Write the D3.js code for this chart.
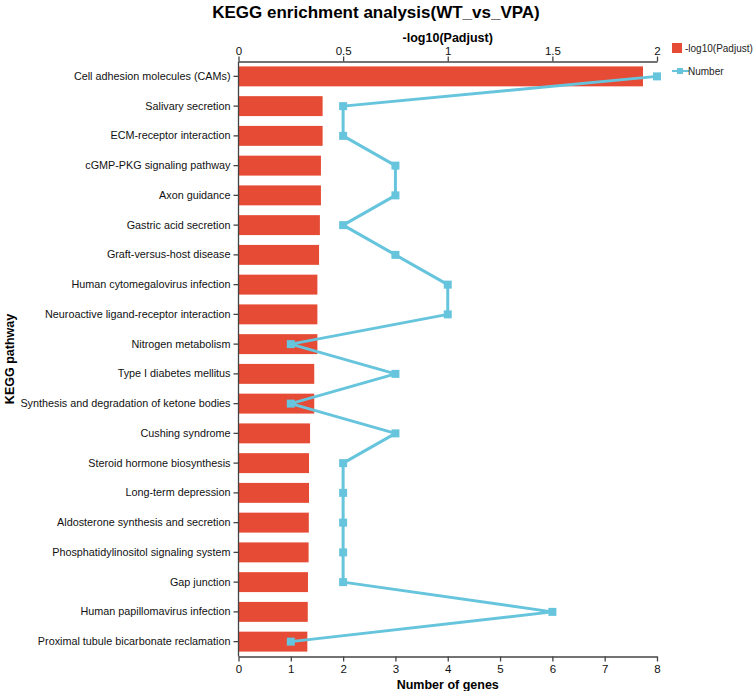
<!DOCTYPE html>
<html><head><meta charset="utf-8">
<script src="https://cdn.jsdelivr.net/npm/d3@7"></script>
<style>body{margin:0;background:#fff;}svg{display:block;font-family:"Liberation Sans",Arial,sans-serif;}</style>
</head><body><svg id="c" width="753" height="691"></svg>
<script>
const categories = ["Cell adhesion molecules (CAMs)","Salivary secretion","ECM-receptor interaction","cGMP-PKG signaling pathway","Axon guidance","Gastric acid secretion","Graft-versus-host disease","Human cytomegalovirus infection","Neuroactive ligand-receptor interaction","Nitrogen metabolism","Type I diabetes mellitus","Synthesis and degradation of ketone bodies","Cushing syndrome","Steroid hormone biosynthesis","Long-term depression","Aldosterone synthesis and secretion","Phosphatidylinositol signaling system","Gap junction","Human papillomavirus infection","Proximal tubule bicarbonate reclamation"];
const padjLog = [1.933,0.402,0.402,0.394,0.394,0.389,0.385,0.377,0.377,0.377,0.362,0.362,0.342,0.337,0.337,0.336,0.335,0.332,0.331,0.329];
const geneNumber = [8,2,2,3,3,2,3,4,4,1,3,1,3,2,2,2,2,2,6,1];
const topTicks = [0,0.5,1,1.5,2];
const bottomTicks = [0,1,2,3,4,5,6,7,8];

const svg = d3.select("#c");
const L=238.5, R=657, T=61.5, B=656.5;
const barColor="#e64b35", lineColor="#66c5dd", axisColor="#444";
const xTop = d3.scaleLinear().domain([0,2]).range([L,R]);
const xBot = d3.scaleLinear().domain([0,8]).range([L,R]);
const y = d3.scaleBand().domain(categories).range([T,B]).paddingInner(0.33).paddingOuter(0.165);

svg.append("g").selectAll("rect").data(categories).join("rect")
  .attr("x",xTop(0)).attr("y",d=>y(d)).attr("height",y.bandwidth())
  .attr("width",(d,i)=>xTop(padjLog[i])-xTop(0)).attr("fill",barColor);

const line = d3.line().x((d,i)=>xBot(d)).y((d,i)=>y(categories[i])+y.bandwidth()/2);
svg.append("path").datum(geneNumber).attr("d",line).attr("fill","none")
  .attr("stroke",lineColor).attr("stroke-width",3).attr("stroke-linejoin","round");
svg.append("g").selectAll("rect").data(geneNumber).join("rect")
  .attr("x",d=>xBot(d)-4).attr("y",(d,i)=>y(categories[i])+y.bandwidth()/2-4)
  .attr("width",8).attr("height",8).attr("fill",lineColor);

function styleAxis(g){
  g.selectAll("path.domain").attr("stroke",axisColor).attr("stroke-width",1.3);
  g.selectAll(".tick line").attr("stroke",axisColor).attr("stroke-width",1.3);
  g.selectAll(".tick text").attr("fill","#111").style("font-family","Liberation Sans, Arial, sans-serif");
}
const gTop = svg.append("g").attr("transform",`translate(0,${T})`)
  .call(d3.axisTop(xTop).tickValues(topTicks).tickFormat(d3.format("")).tickSize(5).tickSizeOuter(0).tickPadding(2));
gTop.selectAll("text").attr("font-size",11.5);
styleAxis(gTop);
const gBot = svg.append("g").attr("transform",`translate(0,${B})`)
  .call(d3.axisBottom(xBot).tickValues(bottomTicks).tickSize(5).tickSizeOuter(0).tickPadding(3));
gBot.selectAll("text").attr("font-size",11.5);
styleAxis(gBot);
const gLeft = svg.append("g").attr("transform",`translate(${L},0)`)
  .call(d3.axisLeft(y).tickSize(5).tickSizeOuter(0).tickPadding(3));
gLeft.select("path.domain").attr("d",`M0,${T}V${B}`);
gLeft.selectAll("text").attr("font-size",10.8);
styleAxis(gLeft);

svg.append("text").attr("x",376).attr("y",18).attr("text-anchor","middle")
  .attr("font-size",17).attr("font-weight","bold").text("KEGG enrichment analysis(WT_vs_VPA)");
svg.append("text").attr("x",(L+R)/2).attr("y",42).attr("text-anchor","middle")
  .attr("font-size",12.5).attr("font-weight","bold").text("-log10(Padjust)");
svg.append("text").attr("x",(L+R)/2).attr("y",689).attr("text-anchor","middle")
  .attr("font-size",12.5).attr("font-weight","bold").text("Number of genes");
svg.append("text").attr("transform",`translate(14,${(T+B)/2}) rotate(-90)`).attr("text-anchor","middle")
  .attr("font-size",12.5).attr("font-weight","bold").text("KEGG pathway");

const lg = svg.append("g");
lg.append("rect").attr("x",672).attr("y",43).attr("width",10).attr("height",10).attr("fill",barColor);
lg.append("text").attr("x",685).attr("y",52).attr("font-size",10).attr("fill","#222").text("-log10(Padjust)");
lg.append("line").attr("x1",672).attr("x2",689).attr("y1",71).attr("y2",71).attr("stroke",lineColor).attr("stroke-width",2);
lg.append("rect").attr("x",677).attr("y",68).attr("width",6).attr("height",6).attr("fill",lineColor);
lg.append("text").attr("x",688).attr("y",75).attr("font-size",10).attr("fill","#222").text("Number");
</script></body></html>
